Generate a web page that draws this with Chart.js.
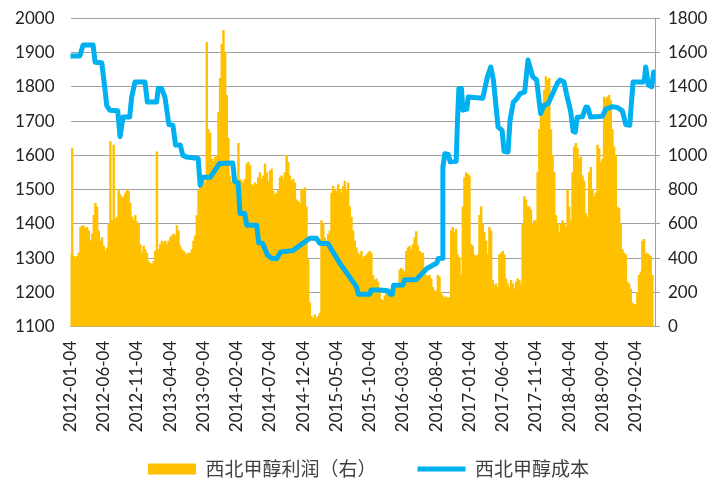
<!DOCTYPE html>
<html>
<head>
<meta charset="utf-8">
<script src="https://cdn.jsdelivr.net/npm/chart.js@4/dist/chart.umd.min.js"></script>
<style>
    html, body { margin: 0; padding: 0; background: #fff; }
</style>
</head>
<body>
<canvas id="chart" width="715" height="480"></canvas>
<script>
// ── Data ──────────────────────────────────────────────────────
// x = months since 2012-01-04
const dateTicks = ['2012-01-04', '2012-06-04', '2012-11-04', '2013-04-04', '2013-09-04',
                   '2014-02-04', '2014-07-04', '2014-12-04', '2015-05-04', '2015-10-04',
                   '2016-03-04', '2016-08-04', '2017-01-04', '2017-06-04', '2017-11-04',
                   '2018-04-04', '2018-09-04', '2019-02-04'];

// 西北甲醇利润（右）: one value per quarter month
const profitStep = 0.25;
const profitValues = [
    420, 1040, 410, 400,   410, 430, 580, 590,    585, 570, 580, 560,    500, 540, 650, 720,
    700, 560, 500, 520,    470, 440, 460, 600,    1080, 620, 1060, 630,  640, 800, 770, 750,
    760, 780, 800, 790,    720, 640, 620, 650,    610, 600, 480, 430,    470, 450, 430, 380,
    370, 360, 380, 440,    1020, 450, 480, 500,   490, 500, 480, 500,    520, 530, 540, 530,
    590, 560, 470, 450,    440, 430, 420, 430,    430, 450, 500, 530,    650, 800, 830, 860,
    870, 840, 1660, 1150,  1130, 980, 960, 990,   1000, 1250, 1450, 1650, 1730, 1600, 1350, 1100,
    880, 850, 830, 860,    840, 1070, 860, 850,   840, 860, 950, 960,    940, 830, 820, 840,
    830, 870, 900, 860,    880, 950, 900, 850,    910, 920, 790, 770,    780, 800, 870, 880,
    860, 900, 1000, 960,   880, 850, 860, 840,    740, 730, 720, 800,    800, 810, 700, 390,
    140, 60, 50, 70,       50, 60, 80, 620,       600, 520, 500, 540,    560, 780, 820, 800,
    790, 830, 800, 780,    820, 850, 800, 840,    700, 640, 560, 500,    460, 430, 420, 440,
    400, 410, 420, 430,    440, 430, 300, 270,    280, 260, 200, 160,    150, 180, 200, 210,
    200, 220, 230, 220,    240, 230, 330, 340,    330, 320, 440, 460,    470, 450, 480, 520,
    555, 470, 440, 430,    430, 330, 300, 290,    300, 280, 230, 210,    210, 300, 290, 200,
    180, 170, 175, 165,    170, 560, 580, 550,    570, 420, 400, 300,    700, 870, 900, 890,
    880, 480, 470, 420,    410, 420, 650, 700,    600, 550, 500, 420,    580, 560, 270, 240,
    250, 230, 420, 430,    440, 420, 280, 250,    230, 270, 250, 220,    260, 280, 270, 250,
    600, 760, 740, 700,    700, 680, 600, 620,    620, 900, 1150, 1300,  1300, 1380, 1460, 1440,
    1450, 1150, 1000, 900, 650, 600, 550, 600,    620, 600, 580, 800,    700, 620, 900, 1050,
    1070, 1040, 980, 990,  880, 850, 660, 640,    900, 930, 800, 760,    780, 1060, 1040, 960,
    980, 1340, 1330, 1340, 1350, 1320, 1150, 1050, 1000, 700, 690, 600,  450, 430, 420, 260,
    250, 220, 140, 130,    130, 200, 300, 320,    500, 510, 420, 430,    420, 410, 300
];

// 西北甲醇成本: turning points of the line
const costMonths = [
    0, 1.4, 1.9, 3.4, 3.7, 4.7, 5.2, 5.45, 5.9, 7.1, 7.45, 7.9, 8.9, 9.2, 9.7, 11.2,
    11.55, 12.95, 13.2, 13.7, 14.2, 14.8, 15.4, 15.8, 16.5, 16.9, 17.5, 19.2, 19.5, 19.8, 21, 22.4,
    24.4, 24.7, 25.2, 25.5, 26.2, 26.5, 28, 28.3, 28.9, 29.6, 30.2, 31, 31.6, 33.4,
    36, 37, 37.5, 38.7, 40.5, 43, 43.3, 45, 45.2, 46.5, 47.7, 48.1, 48.4, 48.6, 50, 50.2,
    52, 53.6, 55.1, 55.3, 55.9, 56.0, 56.3, 56.8, 57.1, 58, 58.2, 58.4, 58.8, 59.0, 59.6, 59.8,
    62, 62.7, 63.2, 63.6, 64.3, 64.9, 65.2, 65.8, 66.1, 66.6, 67.1, 67.6, 68.3, 68.8, 69.5, 70.1,
    70.7, 71.2, 71.8, 73.2, 73.6, 74.2, 74.7, 75.2, 75.6, 75.9, 76.2, 77, 77.5, 77.8, 78.2, 80,
    80.5, 81.5, 82.2, 83, 83.5, 84.1, 84.6, 86.1, 86.3, 86.5, 86.9, 87.4, 87.7
];
const costValues = [
    1890, 1890, 1922, 1922, 1872, 1870, 1790, 1745, 1732, 1730, 1655, 1712, 1712, 1770, 1814, 1814,
    1756, 1756, 1795, 1795, 1770, 1690, 1688, 1630, 1630, 1600, 1595, 1591, 1513, 1536, 1536, 1576,
    1578, 1523, 1520, 1430, 1430, 1396, 1396, 1345, 1343, 1310, 1300, 1298, 1318, 1322,
    1358, 1358, 1343, 1343, 1285, 1217, 1195, 1195, 1207, 1207, 1205, 1195, 1195, 1221, 1222, 1236,
    1238, 1270, 1286, 1299, 1300, 1566, 1605, 1603, 1581, 1583, 1703, 1795, 1795, 1732, 1735, 1770,
    1767, 1829, 1858, 1820, 1683, 1673, 1612, 1610, 1703, 1755, 1765, 1780, 1785, 1878, 1830, 1820,
    1722, 1746, 1750, 1810, 1820, 1815, 1770, 1730, 1670, 1668, 1711, 1713, 1741, 1740, 1712, 1714,
    1735, 1742, 1740, 1730, 1690, 1688, 1814, 1814, 1820, 1858, 1805, 1800, 1843
];

// ── Style ─────────────────────────────────────────────────────
const gridColor = '#A0A0A0';
const tickFont  = { family: 'Lato', size: 17 };
const tickColor = '#222222';

// ── Legend placement: row centred at y 469, shifted a bit right ─
const legendPlace = {
    id: 'legendPlace',
    afterLayout(chart) {
        const lg = chart.legend;
        const dy = 469 - (lg.top + lg.options.labels.padding + 9.5);
        lg.top += dy;  lg.bottom += dy;
        lg.left += 11; lg.right += 11;
    }
};

// ── Build chart ───────────────────────────────────────────────
const profitData = profitValues.map((v, i) => ({ x: i * profitStep, y: v }));
const costData   = costMonths.map((m, i) => ({ x: m, y: costValues[i] }));

new Chart(document.getElementById('chart').getContext('2d'), {
    type: 'bar',
    data: {
        datasets: [{
            label: '西北甲醇利润（右）',
            data: profitData,
            yAxisID: 'y1',
            backgroundColor: '#FFC000',
            borderWidth: 0,
            barThickness: 1.8,
            order: 2
        }, {
            type: 'line',
            label: '西北甲醇成本',
            data: costData,
            yAxisID: 'y',
            borderColor: '#00B0F0',
            backgroundColor: '#00B0F0',
            borderWidth: 5,
            borderJoinStyle: 'round',
            borderCapStyle: 'round',
            pointRadius: 0,
            tension: 0,
            order: 1
        }]
    },
    plugins: [legendPlace],
    options: {
        responsive: false,
        animation: false,
        events: [],
        layout: { padding: { top: 18.3, left: 0, right: 0, bottom: -26.7 } },
        plugins: {
            tooltip: { enabled: false },
            legend: {
                position: 'bottom',
                labels: {
                    usePointStyle: true,
                    pointStyleWidth: 48,
                    boxHeight: 11,
                    padding: 41,
                    color: '#404040',
                    font: { family: '"Noto Sans CJK SC"', size: 19 },
                    sort: (a, b) => a.datasetIndex - b.datasetIndex,
                    generateLabels(chart) {
                        const items = Chart.defaults.plugins.legend.labels.generateLabels(chart);
                        items.forEach(it => {
                            it.pointStyle = chart.data.datasets[it.datasetIndex].type === 'line' ? 'line' : 'rect';
                        });
                        return items;
                    }
                }
            }
        },
        scales: {
            x: {
                type: 'linear',
                position: 'bottom',
                min: 0,
                max: 87.9,
                offset: false,
                grid: { display: true, drawOnChartArea: false, drawTicks: false },
                border: { display: true, color: gridColor, width: 1 },
                ticks: {
                    stepSize: 5,
                    includeBounds: false,
                    autoSkip: false,
                    minRotation: 90,
                    maxRotation: 90,
                    padding: 14,
                    font: tickFont,
                    color: tickColor,
                    callback: v => dateTicks[v / 5] || ''
                },
                afterBuildTicks: s => { s.ticks = s.ticks.filter(t => t.value % 5 === 0); },
                afterFit: s => { s.height = 110; s.paddingLeft = 0; s.paddingRight = 0; }
            },
            y: {
                position: 'left',
                min: 1100,
                max: 2000,
                grid: { color: gridColor, lineWidth: 1, drawTicks: false },
                border: { display: false },
                ticks: { stepSize: 100, padding: 16, font: tickFont, color: tickColor, callback: v => String(v) },
                afterFit: s => { s.width = 70.5; s.paddingTop = 0; s.paddingBottom = 0; }
            },
            y1: {
                position: 'right',
                min: 0,
                max: 1800,
                grid: { drawOnChartArea: false, drawTicks: true, tickLength: 5, color: gridColor },
                border: { display: true, color: gridColor, width: 1 },
                ticks: { stepSize: 200, padding: 8, font: tickFont, color: tickColor, callback: v => String(v) },
                afterFit: s => { s.width = 60; s.paddingTop = 0; s.paddingBottom = 0; }
            }
        }
    }
});
</script>
</body>
</html>
